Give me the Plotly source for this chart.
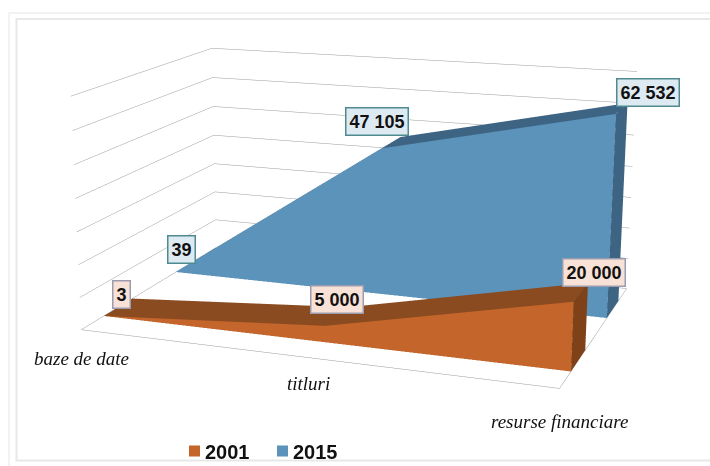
import numpy as np
import plotly.graph_objects as go

categories = ["baze de date", "titluri", "resurse financiare"]
years = ["2001", "2015"]
v2001 = [3, 5000, 20000]
v2015 = [39, 47105, 62532]
labels2001 = ["3", "5 000", "20 000"]
labels2015 = ["39", "47 105", "62 532"]

WIN_W, WIN_H = 710, 466
FIG_W, FIG_H = 770, 1348
SHIFT_X, SHIFT_Y = 60, 438
EYE = (1.093, -3.141, 0.815)
CENTER = (-0.190, 0.266, -0.168)
UP = (-0.267, 0.719, 1.0)
ASPECT = (1.0, 0.674, 0.487)
ZMAX = 70000
def px(x, y=0): return (x + SHIFT_X) / FIG_W
def py(y): return 1 - (y + SHIFT_Y) / FIG_H

fig = go.Figure()

def slab(vals, y0, y1, front, top, side, name):
    xs, ys, zs = [], [], []
    n = len(vals)
    for yy in (y0, y1):
        for i, v in enumerate(vals):
            xs += [i, i]; ys += [yy, yy]; zs += [0, v]
    I, J, K, C = [], [], [], []
    def idx(layer, i, t): return layer * 2 * n + 2 * i + t
    def quad(a, b, c_, d, col):
        I.extend([a, a]); J.extend([b, c_]); K.extend([c_, d]); C.extend([col, col])
    for i in range(n - 1):
        quad(idx(0, i, 0), idx(0, i + 1, 0), idx(0, i + 1, 1), idx(0, i, 1), front)
        quad(idx(0, i, 1), idx(0, i + 1, 1), idx(1, i + 1, 1), idx(1, i, 1), top)
    quad(idx(0, n - 1, 0), idx(1, n - 1, 0), idx(1, n - 1, 1), idx(0, n - 1, 1), side)
    fig.add_trace(go.Mesh3d(x=xs, y=ys, z=zs, i=I, j=J, k=K, facecolor=C, flatshading=True, name=name,
                            showlegend=False, hoverinfo="skip",
                            lighting=dict(ambient=1, diffuse=0, specular=0, roughness=1, fresnel=0)))

D2001 = (0.145, 0.34)
D2015 = (0.665, 0.855)
slab(v2001, *D2001, "#C4652B", "#8A4B20", "#7F4218", years[0])
slab(v2015, *D2015, "#5B93BA", "#3E6484", "#3E6484", years[1])

fig.add_trace(go.Scatter(x=[None], y=[None], mode="markers", name=years[0], marker=dict(symbol="square", size=11, color="#C4652B")))
fig.add_trace(go.Scatter(x=[None], y=[None], mode="markers", name=years[1], marker=dict(symbol="square", size=11, color="#5B93BA")))

def proj(x, y, z):
    U = np.array([x / 2, y, z / ZMAX])
    eye, cen, up = np.array(EYE), np.array(CENTER), np.array(UP)
    M = (U - 0.5) * np.array(ASPECT)
    fw = cen - eye; fw = fw / np.linalg.norm(fw)
    s = np.cross(fw, up); s = s / np.linalg.norm(s)
    u = np.cross(s, fw)
    d = M - eye
    f = FIG_H / 2 / np.tan(np.pi / 8)
    return (FIG_W / 2 - SHIFT_X + f * (d @ s) / (d @ fw), FIG_H / 2 - SHIFT_Y - f * (d @ u) / (d @ fw))

ann = []
def label(x, y, z, text, tx, ty, bg, border):
    p = proj(x, y, z)
    ann.append(dict(x=x, y=y, z=z, text="<b>%s</b>" % text, showarrow=False, xanchor="center", yanchor="middle",
                    xshift=tx - p[0], yshift=p[1] - ty, bgcolor=bg, bordercolor=border, borderwidth=1.5, borderpad=3,
                    font=dict(family="Liberation Sans", size=18, color="#111")))
PINK, PINKB = "#F8E1D6", "#9C9CB0"
PALE, PALEB = "#DEEAF1", "#4F8A90"
for i, pos in enumerate([(122, 294), (337, 299), (594, 272)]):
    label(i, D2001[1], v2001[i], labels2001[i], pos[0], pos[1], PINK, PINKB)
for i, pos in enumerate([(181, 249), (377, 121), (648, 92)]):
    label(i, D2015[1], v2015[i], labels2015[i], pos[0], pos[1], PALE, PALEB)
for i, pos in enumerate([(81, 358), (308, 383), (560, 421)]):
    p = proj(i, 0, 0)
    ann.append(dict(x=i, y=0, z=0, text=categories[i], showarrow=False, xanchor="center", yanchor="middle",
                    xshift=pos[0] - p[0], yshift=p[1] - pos[1],
                    font=dict(family="Liberation Serif", size=19, color="#111", style="italic")))

ax = dict(showticklabels=False, title="", showgrid=False, showline=True, linecolor="#999", zeroline=False,
          showbackground=False, ticks="", showspikes=False)
fig.update_layout(
    width=FIG_W, height=FIG_H, margin=dict(l=0, r=0, t=0, b=0, autoexpand=False), paper_bgcolor="white", plot_bgcolor="white",
    xaxis=dict(visible=False), yaxis=dict(visible=False),
    showlegend=True,
    legend=dict(orientation="h", x=px(174.5), y=py(451), xanchor="left", yanchor="middle", entrywidth=43, entrywidthmode="pixels",
                font=dict(family="Liberation Sans", size=20, color="#111", weight=700), bgcolor="rgba(0,0,0,0)"),
    scene=dict(domain=dict(x=[0, 1], y=[0, 1]), aspectmode="manual", dragmode="orbit",
               aspectratio=dict(x=ASPECT[0], y=ASPECT[1], z=ASPECT[2]),
               camera=dict(eye=dict(x=EYE[0], y=EYE[1], z=EYE[2]), center=dict(x=CENTER[0], y=CENTER[1], z=CENTER[2]),
                           up=dict(x=UP[0], y=UP[1], z=UP[2])),
               xaxis=dict(ax, range=[0, 2]), yaxis=dict(ax, range=[0, 1]),
               zaxis=dict(ax, range=[0, ZMAX], dtick=10000, showgrid=True, gridcolor="#9A9A9A", gridwidth=1, showline=False),
               annotations=ann),
    shapes=[dict(type="rect", xref="paper", yref="paper", x0=px(9), x1=px(709.9 + 5), y0=py(470), y1=py(13), line=dict(color="#EEEEEE", width=1.5)),
            dict(type="rect", xref="paper", yref="paper", x0=px(16.5), x1=px(709.9 + 5), y0=py(460.5), y1=py(19), line=dict(color="#E8E8E8", width=2))],
)
fig.write_html("out.html", config=dict(displayModeBar=False),
               post_script="document.body.style.margin='0';document.documentElement.style.overflow='hidden';document.body.style.overflow='hidden';"
                           "var g=document.querySelector('.plotly-graph-div');g.style.marginLeft='-%dpx';g.style.marginTop='-%dpx';"
                           "document.querySelectorAll('.legendtext').forEach(function(t){t.setAttribute('x',parseFloat(t.getAttribute('x'))-9.5);});" % (SHIFT_X, SHIFT_Y))
